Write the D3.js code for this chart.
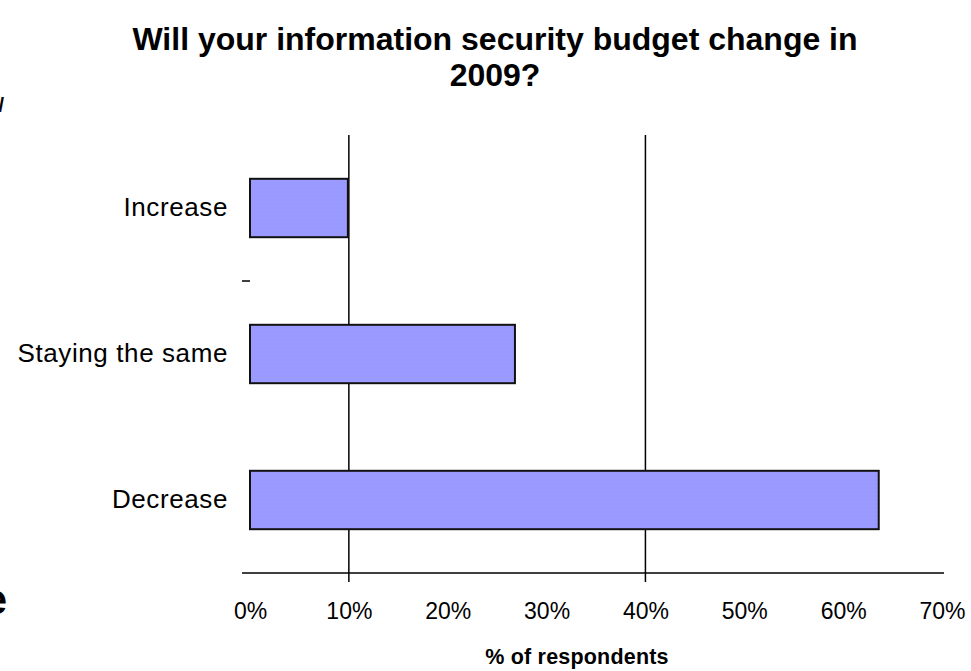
<!DOCTYPE html>
<html><head><meta charset="utf-8">
<script src="https://cdn.jsdelivr.net/npm/d3@7"></script>
<style>body{margin:0;background:#fff}svg{display:block}</style>
</head><body>
<svg id="c" width="971" height="671"></svg>
<script>
const categories = ["Increase", "Staying the same", "Decrease"];
const values = [9.9, 26.8, 63.6];
const xTicks = [0, 10, 20, 30, 40, 50, 60, 70];
const gridValues = [10, 40];
const titleLines = ["Will your information security budget change in", "2009?"];
const axisTitle = "% of respondents";

const svg = d3.select("#c");
const pLeft = 250, pRight = 942, pTop = 135, pBottom = 573;
const x = d3.scaleLinear().domain([0, 70]).range([pLeft, pRight]);
const y = d3.scaleBand().domain(categories).range([pTop, pBottom]).paddingInner(0.6).paddingOuter(0.3);
const FONT = "Arial, 'Liberation Sans', sans-serif";

// title
svg.append("g").selectAll("text").data(titleLines).join("text")
  .attr("x", 495).attr("y", (d, i) => 50 + i * 36)
  .attr("text-anchor", "middle").attr("font-family", FONT)
  .attr("font-weight", "bold").attr("font-size", 32).attr("fill", "#000").text(d => d);

// gridlines
svg.append("g").selectAll("line").data(gridValues).join("line")
  .attr("x1", d => x(d)).attr("x2", d => x(d))
  .attr("y1", pTop).attr("y2", pBottom + 9)
  .attr("stroke", "#000").attr("stroke-width", 1.5);

// pattern
const defs = svg.append("defs");
const pat = defs.append("pattern").attr("id", "dots").attr("width", 4).attr("height", 4).attr("patternUnits", "userSpaceOnUse");
pat.append("rect").attr("width", 4).attr("height", 4).attr("fill", "#9999ff");
pat.append("rect").attr("x", 1).attr("y", 1).attr("width", 1).attr("height", 1).attr("fill", "#a3a3ff");

// bars
svg.append("g").selectAll("rect").data(categories).join("rect")
  .attr("x", x(0)).attr("y", d => y(d))
  .attr("width", (d, i) => x(values[i]) - x(0))
  .attr("height", y.bandwidth())
  .attr("fill", "url(#dots)").attr("stroke", "#111").attr("stroke-width", 2);

// x axis
const xAxis = d3.axisBottom(x).tickValues(xTicks).tickFormat(d => d + "%").tickSize(0).tickPadding(30);
const gx = svg.append("g").attr("transform", `translate(0,${pBottom})`).call(xAxis);
gx.select(".domain").remove();
gx.append("line").attr("x1", 242).attr("x2", 944).attr("y1", 0).attr("y2", 0).attr("stroke", "#000").attr("stroke-width", 1.5);
gx.selectAll("text").attr("font-family", FONT).attr("font-size", 23).attr("fill", "#000");

// y axis labels
const yAxis = d3.axisLeft(y).tickSize(0).tickPadding(22);
const gy = svg.append("g").attr("transform", `translate(${pLeft},0)`).call(yAxis);
gy.select(".domain").remove();
gy.selectAll("text").attr("font-family", FONT).attr("font-size", 26).attr("letter-spacing", 0.6).attr("fill", "#000");
// small tick at band boundary
const boundary = y(categories[0]) + y.bandwidth() + y.step() * y.paddingInner() / 2;
svg.append("line").attr("x1", pLeft - 8).attr("x2", pLeft).attr("y1", boundary).attr("y2", boundary)
  .attr("stroke", "#000").attr("stroke-width", 1.5);

// axis title
svg.append("text").attr("x", 577).attr("y", 664).attr("text-anchor", "middle")
  .attr("font-family", FONT).attr("font-weight", "bold")
  .attr("font-size", 21.5).attr("letter-spacing", 0.2).text(axisTitle);

// cropped page fragments at the left edge
svg.append("text").attr("x", 7).attr("y", 614).attr("text-anchor", "end")
  .attr("font-family", FONT).attr("font-weight", "bold").attr("font-size", 42).text("e");
svg.append("text").attr("x", 4).attr("y", 112).attr("text-anchor", "end")
  .attr("font-family", FONT).attr("font-weight", "bold").attr("font-size", 20).text("/");
</script>
</body></html>
